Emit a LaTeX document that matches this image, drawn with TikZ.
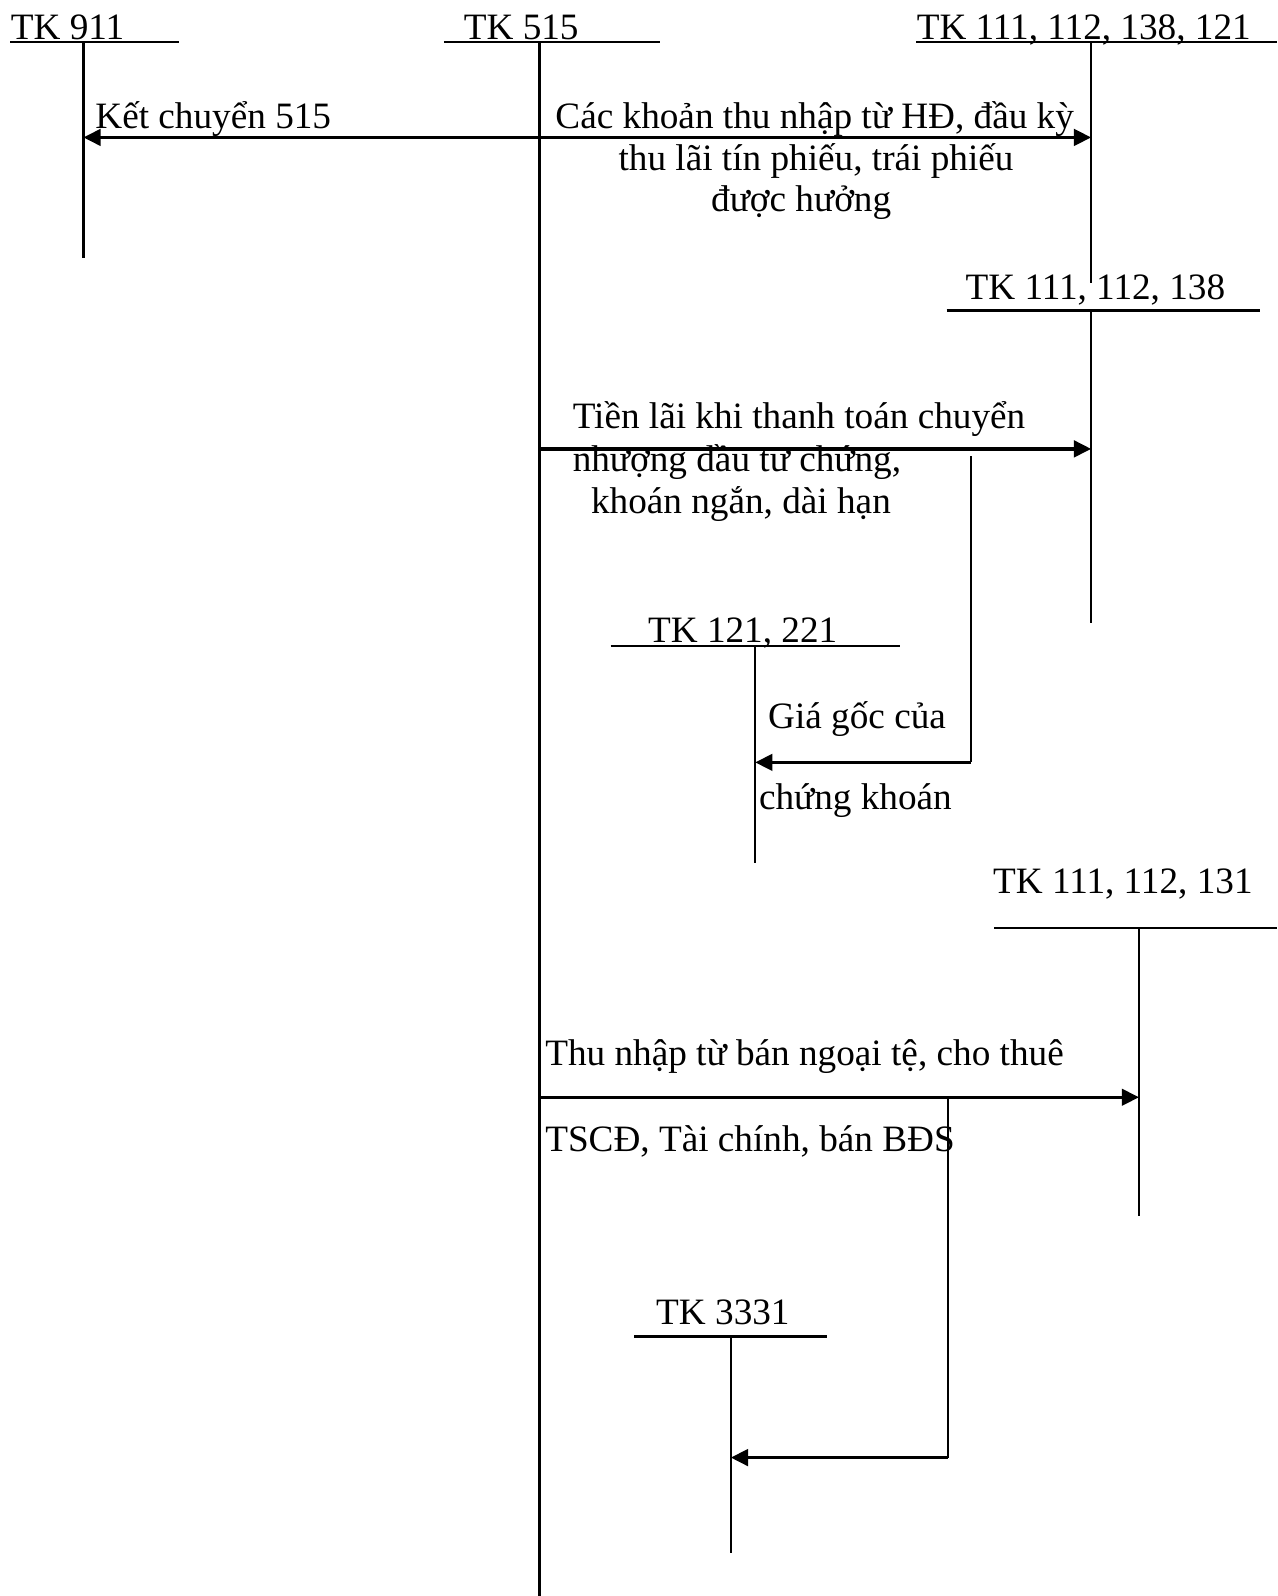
\documentclass[tikz,border=0pt]{standalone}
\usepackage{fontspec}
\setmainfont{Liberation Serif}
\usetikzlibrary{arrows.meta}

\begin{document}
\begin{tikzpicture}[
    x=0.01cm, y=-0.01cm,
    every node/.style={inner sep=0pt, font=\fontsize{10.4}{12}\selectfont},
    lbl/.style={anchor=base west},
    acct/.style={line width=0.6pt},
    link/.style={line width=0.9pt},
    flow/.style={link, -{Triangle[length=4.8pt, width=4.6pt]}},
]
\useasboundingbox (0,0) rectangle (1255,1568);

% T accounts (top and foot of each vertical line)
\coordinate (tk911) at (82,41);    \coordinate (tk911e) at (82,253);
\coordinate (tk515) at (530,41);   \coordinate (tk515e) at (530,1568);
\coordinate (tk111a) at (1072,41); \coordinate (tk111ae) at (1072,278);
\coordinate (tk111b) at (1072,305);\coordinate (tk111be) at (1072,612);
\coordinate (tk121) at (742,635);  \coordinate (tk121e) at (742,848);
\coordinate (tk131) at (1119,912); \coordinate (tk131e) at (1119,1195);
\coordinate (tk3331) at (718,1313);\coordinate (tk3331e) at (718,1526);

% account headings
\node[lbl] (h911) at (10,39) {TK 911};
\node[lbl] (h515) at (455,39) {TK 515};
\node[lbl] (h111a) at (900,39) {TK 111, 112, 138, 121};
\node[lbl] (h111b) at (948,294) {TK 111, 112, 138};
\node[lbl] (h121) at (636,631) {TK 121, 221};
\node[lbl] (h131) at (975,878) {TK 111, 112, 131};
\node[lbl] (h3331) at (644,1301) {TK 3331};

% rules
\draw[acct] (10,41) -- (176,41);
\draw[acct] (436,41) -- (648,41);
\draw[acct] (900,41) -- (1255,41);
\draw[acct] (930,305) -- (1238,305);
\draw[acct] (600,635) -- (884,635);
\draw[acct] (977,912) -- (1255,912);
\draw[acct] (623,1313) -- (812,1313);

\draw[acct] (tk911) -- (tk911e);
\draw[acct] (tk515) -- (tk515e);
\draw[acct] (tk111a) -- (tk111ae);
\draw[acct] (tk111b) -- (tk111be);
\draw[acct] (tk121) -- (tk121e);
\draw[acct] (tk131) -- (tk131e);
\draw[acct] (tk3331) -- (tk3331e);

% entries
\coordinate (r1) at (530,135);
\draw[flow] (r1) -- (tk911 |- r1);
\draw[flow] (r1) -- (tk111a |- r1);
\node[lbl] (k1) at (93,126) {Kết chuyển 515};
\node[lbl] (c1a) at (545,126) {Các khoản thu nhập từ HĐ, đầu kỳ};
\node[lbl] (c1b) at (607,167) {thu lãi tín phiếu, trái phiếu};
\node[lbl] (c1c) at (698,208) {được hưởng};

\coordinate (r2) at (530,441);
\draw[flow] (r2) -- (tk111b |- r2);
\node[lbl] (c2a) at (562,421) {Tiền lãi khi thanh toán chuyển};
\node[lbl] (c2b) at (562,463) {nhượng đầu tư chứng,};
\node[lbl] (c2c) at (580,504) {khoán ngắn, dài hạn};

\coordinate (b2) at (954,448);
\coordinate (b2e) at (954,749);
\draw[acct] (b2) -- (b2e);
\draw[flow] (b2e) -- (tk121 |- b2e);
\node[lbl] (c3a) at (754,716) {Giá gốc của};
\node[lbl] (c3b) at (745,795) {chứng khoán};

\coordinate (r3) at (530,1078);
\draw[flow] (r3) -- (tk131 |- r3);
\node[lbl] (c4a) at (535,1047) {Thu nhập từ bán ngoại tệ, cho thuê};
\node[lbl] (c4b) at (535,1131) {TSCĐ, Tài chính, bán BĐS};

\coordinate (b3) at (931,1078);
\coordinate (b3e) at (931,1432);
\draw[acct] (b3) -- (b3e);
\draw[flow] (b3e) -- (tk3331 |- b3e);

\end{tikzpicture}
\end{document}
